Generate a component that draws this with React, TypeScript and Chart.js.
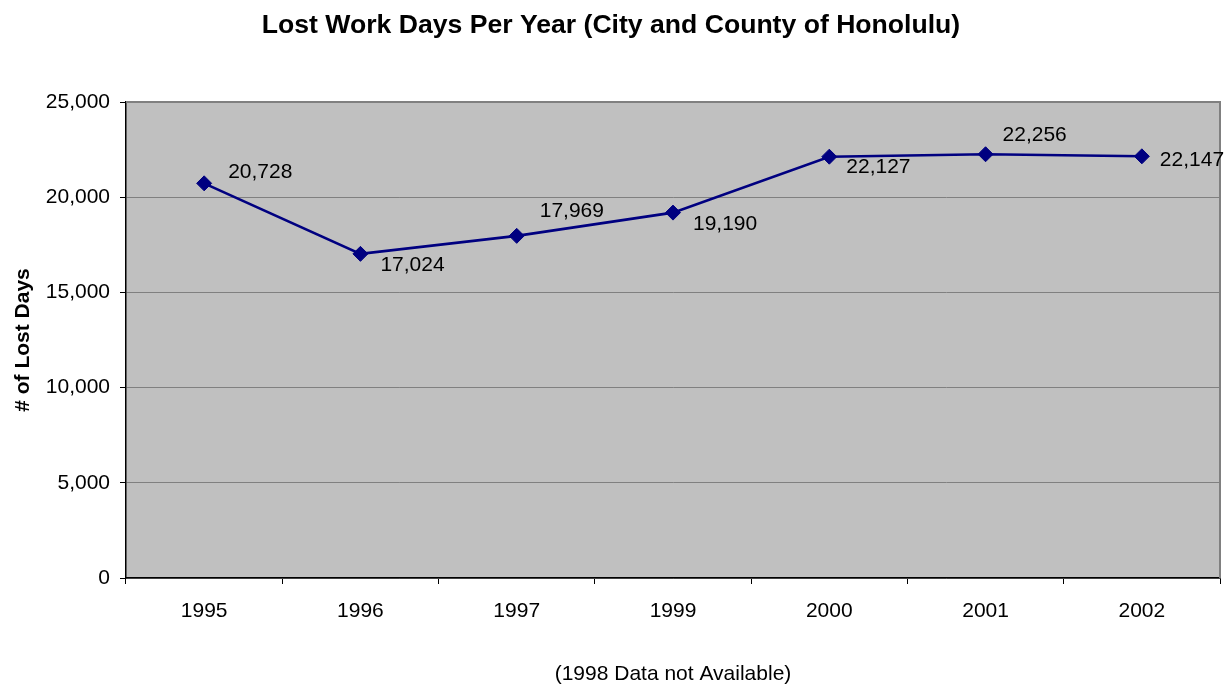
import React, { useEffect, useRef } from "react";
import { Chart, registerables } from "chart.js";

Chart.register(...registerables);

const years = ["1995", "1996", "1997", "1999", "2000", "2001", "2002"];
const lostDays = [20728, 17024, 17969, 19190, 22127, 22256, 22147];
const yTicks = [0, 5000, 10000, 15000, 20000, 25000];
const labelOffsets = [
  [24, -11],
  [20, 11.5],
  [23, -24.3],
  [20, 11.7],
  [17, 10.5],
  [17, -19.5],
  [18, 3.5],
];

const chartTitle = "Lost Work Days Per Year (City and County of Honolulu)";
const yTitle = "# of Lost Days";
const xTitle = "(1998 Data not Available)";
const FONT = "'Liberation Sans', Arial, sans-serif";

const fmt = (v: number) => v.toLocaleString("en-US");

const customPlugin = {
  id: "custom",
  beforeDraw(chart: any) {
    const { ctx, chartArea } = chart;
    ctx.save();
    ctx.fillStyle = "#C0C0C0";
    ctx.fillRect(chartArea.left, chartArea.top, chartArea.right - chartArea.left, chartArea.bottom - chartArea.top);
    ctx.font = `bold 26.6px ${FONT}`;
    ctx.fillStyle = "#000";
    ctx.textAlign = "center";
    ctx.textBaseline = "middle";
    ctx.fillText(chartTitle, 611, 26);
    ctx.restore();
  },
  beforeDatasetsDraw(chart: any) {
    const { ctx, chartArea } = chart;
    ctx.save();
    ctx.strokeStyle = "#808080";
    ctx.lineWidth = 2;
    ctx.beginPath();
    ctx.moveTo(chartArea.left, chartArea.top);
    ctx.lineTo(chartArea.right, chartArea.top);
    ctx.lineTo(chartArea.right, chartArea.bottom);
    ctx.stroke();
    ctx.restore();
  },
  afterDatasetsDraw(chart: any) {
    const { ctx } = chart;
    const meta = chart.getDatasetMeta(0);
    ctx.save();
    ctx.font = `21px ${FONT}`;
    ctx.fillStyle = "#000";
    ctx.textAlign = "left";
    ctx.textBaseline = "middle";
    meta.data.forEach((pt: any, i: number) => {
      const [dx, dy] = labelOffsets[i];
      ctx.fillText(fmt(lostDays[i]), pt.x + dx, pt.y + dy);
    });
    ctx.restore();
  },
};

export default function App() {
  const ref = useRef<HTMLCanvasElement | null>(null);
  useEffect(() => {
    document.body.style.margin = "0";
    const chart = new Chart(ref.current as HTMLCanvasElement, {
      type: "line",
      data: {
        labels: years,
        datasets: [
          {
            data: lostDays,
            borderColor: "#000080",
            backgroundColor: "#000080",
            borderWidth: 2.6,
            pointStyle: "rectRot",
            pointRadius: 7.5,
            pointBorderWidth: 1,
            pointBackgroundColor: "#000080",
            pointBorderColor: "#000080",
            tension: 0,
            fill: false,
          },
        ],
      },
      options: {
        responsive: false,
        animation: false,
        layout: { autoPadding: false, padding: { top: 102, right: 7, left: 0, bottom: 0 } },
        plugins: {
          legend: { display: false },
          title: { display: false },
          tooltip: { enabled: false },
        },
        scales: {
          x: {
            type: "category",
            offset: true,
            afterFit: (s: any) => {
              s.height = 107;
            },
            grid: {
              offset: true,
              drawOnChartArea: false,
              drawTicks: true,
              tickLength: 6,
              tickColor: "#000",
              tickWidth: 1,
            },
            border: { display: true, color: "#000", width: 1.5 },
            ticks: {
              color: "#000",
              font: { family: FONT, size: 21 },
              padding: 15,
              maxRotation: 0,
            },
            title: {
              display: true,
              text: xTitle,
              color: "#000",
              font: { family: FONT, size: 21, lineHeight: 1 },
              padding: { top: 0, bottom: 0 },
            },
          },
          y: {
            min: 0,
            max: 25000,
            afterFit: (s: any) => {
              s.width = 126;
            },
            afterBuildTicks: (s: any) => {
              s.ticks = yTicks.map((v) => ({ value: v }));
            },
            grid: {
              color: "#808080",
              lineWidth: 1,
              drawTicks: true,
              tickLength: 6,
              tickColor: "#000",
            },
            border: { display: true, color: "#000", width: 1.5 },
            ticks: {
              color: "#000",
              font: { family: FONT, size: 21 },
              padding: 10,
              callback: (v: any) => fmt(Number(v)),
            },
            title: {
              display: true,
              text: yTitle,
              color: "#000",
              font: { family: FONT, size: 21, weight: "bold", lineHeight: 1 },
              padding: { top: 12.5, bottom: 0 },
            },
          },
        },
      },
      plugins: [customPlugin],
    } as any);
    return () => chart.destroy();
  }, []);
  return (
    <div style={{ position: "absolute", left: 0, top: 0 }}>
      <canvas ref={ref} width={1227} height={685} style={{ display: "block" }} />
    </div>
  );
}
